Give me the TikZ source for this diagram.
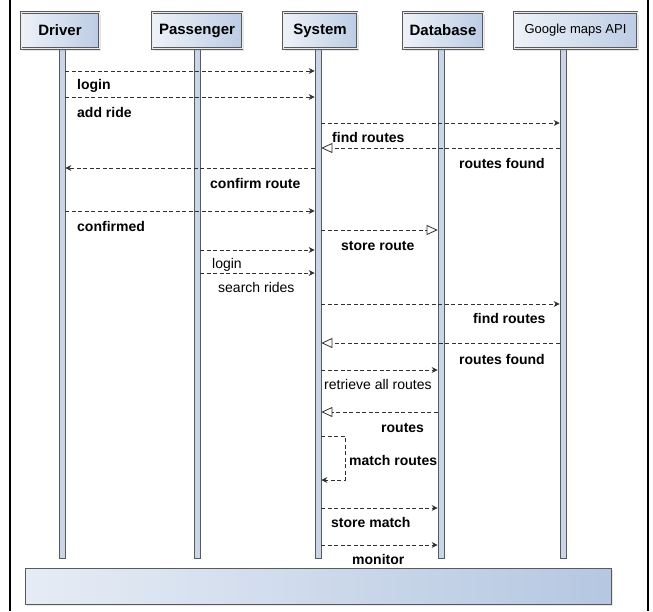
\documentclass[tikz,border=0pt]{standalone}
\usepackage{fontspec}
\setmainfont{Liberation Sans}
\usetikzlibrary{arrows.meta,shadows}
\definecolor{lifefill}{HTML}{C9D6EA}
\definecolor{boxlight}{HTML}{EEF2F9}
\definecolor{boxdark}{HTML}{BCCCE4}
\definecolor{barlight}{HTML}{E6ECF5}
\definecolor{bardark}{HTML}{B5C7E1}
\definecolor{edge}{HTML}{5A5A5A}
\definecolor{msgline}{HTML}{303030}

\begin{document}
\begin{tikzpicture}[x=1pt,y=-1pt,
   actor/.style={draw=edge, double=white!85!gray, double distance=1pt,
                 line width=0.7pt, left color=boxlight, right color=boxdark,
                 minimum height=36pt, inner sep=0pt,
                 font=\fontsize{15}{18}\selectfont\bfseries,
                 drop shadow={opacity=0.2,shadow xshift=2pt,shadow yshift=-2pt}},
   life/.style={draw=edge, fill=lifefill, line width=0.7pt,
                minimum width=6pt, inner sep=0pt},
   call/.style={draw=msgline, line width=0.8pt, dash pattern=on 4pt off 2.5pt,
                -{Stealth[length=6pt,width=6pt,inset=2pt]}},
   reply/.style={draw=msgline, line width=0.8pt, dash pattern=on 4pt off 2.5pt,
                 -{Triangle[open,length=11pt,width=10pt]}},
   lbl/.style={anchor=base west, inner sep=0pt,
               font=\fontsize{14}{16}\selectfont\bfseries},
   lbln/.style={lbl, font=\fontsize{14}{16}\selectfont}]

\useasboundingbox (0,0) rectangle (653,611);

%frame
\draw [line width=2pt] (10,0) -- (10,611);
\draw [line width=2pt] (648,0) -- (648,611);

%lifelines
\node [life, minimum height=509pt] (drvL) at (62,303.5) {};
\node [life, minimum height=509pt] (pasL) at (197,303.5) {};
\node [life, minimum height=509pt] (sysL) at (318,303.5) {};
\node [life, minimum height=509pt] (dbL)  at (441,303.5) {};
\node [life, minimum height=509pt] (gglL) at (563,303.5) {};

%actors
\node [actor, minimum width=78pt]  (drv) at (60,30.5)    {Driver};
\node [actor, minimum width=90pt]  (pas) at (197,30.5)   {Passenger};
\node [actor, minimum width=74pt]  (sys) at (320,30.5)   {System};
\node [actor, minimum width=80pt]  (db)  at (443,30.5)   {Database};
\node [actor, minimum width=123pt, font=\fontsize{13}{16}\selectfont]
                                   (ggl) at (575.5,30.5) {Google maps API};

%bottom bar
\node [draw=edge, line width=0.8pt, left color=barlight, right color=bardark,
       minimum width=586pt, minimum height=36pt, inner sep=0pt,
       drop shadow={opacity=0.2,shadow xshift=2pt,shadow yshift=-2pt}]
       (bar) at (318,586) {};

% message levels
\foreach \n/\y in {1/71,2/97,3/123,4/148,5/168,6/211,7/230,8/250,9/273,
                   10/304,11/343,12/370,13/412,15/508,16/545}
  \coordinate (m\n) at (0,\y);

%driver
\draw [call]  (drvL.east |- m1)  -- (sysL.west |- m1);
\draw [call]  (drvL.east |- m2)  -- (sysL.west |- m2);
\draw [call]  (sysL.east |- m3)  -- (gglL.west |- m3);
\draw [reply] (gglL.west |- m4)  -- (sysL.east |- m4);
\draw [call]  (sysL.west |- m5)  -- (drvL.east |- m5);
\draw [call]  (drvL.east |- m6)  -- (sysL.west |- m6);
\draw [reply] (sysL.east |- m7)  -- (dbL.west |- m7);

%passenger
\draw [call]  (pasL.east |- m8)  -- (sysL.west |- m8);
\draw [call]  (pasL.east |- m9)  -- (sysL.west |- m9);
\draw [call]  (sysL.east |- m10) -- (gglL.west |- m10);
\draw [reply] (gglL.west |- m11) -- (sysL.east |- m11);
\draw [call]  (sysL.east |- m12) -- (dbL.west |- m12);
\draw [reply] (dbL.west |- m13)  -- (sysL.east |- m13);

%self call
\coordinate (selfA) at (345,436);
\coordinate (selfB) at (345,480);
\draw [call] (sysL.east |- selfA) -- (selfA) -- (selfB) -- (sysL.east |- selfB);

\draw [call]  (sysL.east |- m15) -- (dbL.west |- m15);
\draw [call]  (sysL.east |- m16) -- (dbL.west |- m16);

%labels
\node [lbl]  (l1)  at (77,89)   {login};
\node [lbl]  (l2)  at (77,117)  {add ride};
\node [lbl]  (l3)  at (332,142) {find routes};
\node [lbl]  (l4)  at (459,168) {routes found};
\node [lbl]  (l5)  at (210,188) {confirm route};
\node [lbl]  (l6)  at (77,231)  {confirmed};
\node [lbl]  (l7)  at (341,250) {store route};
\node [lbln] (l8)  at (212,268) {login};
\node [lbln] (l9)  at (218,292) {search rides};
\node [lbl]  (l10) at (473,323) {find routes};
\node [lbl]  (l11) at (459,364) {routes found};
\node [lbln] (l12) at (324,389) {retrieve all routes};
\node [lbl]  (l13) at (381,432) {routes};
\node [lbl]  (l14) at (349,465) {match routes};
\node [lbl]  (l15) at (331,527) {store match};
\node [lbl]  (l16) at (352,564) {monitor};

\end{tikzpicture}
\end{document}
